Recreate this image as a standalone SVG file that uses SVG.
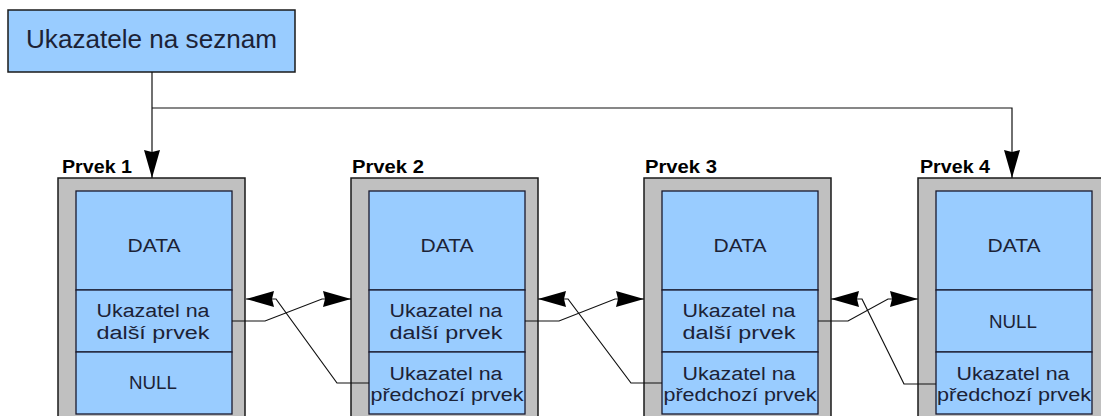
<svg xmlns="http://www.w3.org/2000/svg" width="1101" height="416" viewBox="0 0 1101 416">
  <style>
    .head { fill: #99ccff; stroke: #1a1a1a; stroke-width: 1.5; }
    .frame { fill: #c0c0c0; stroke: #1a1a1a; stroke-width: 1.5; }
    .cell { fill: #99ccff; stroke: #1a1a2e; stroke-width: 1.3; }
    .lbl { font-family: "Liberation Sans", Arial, sans-serif; font-weight: bold; font-size: 18px; fill: #000; }
    .txt { font-family: "Liberation Sans", Arial, sans-serif; font-size: 18px; fill: #1c2236; text-anchor: middle; }
    .title { font-family: "Liberation Sans", Arial, sans-serif; font-size: 26px; fill: #1c2236; }
    .wire { fill: none; stroke: #111; stroke-width: 1.2; }
  </style>
  <defs>
    <marker id="arrow" markerUnits="userSpaceOnUse" markerWidth="30" markerHeight="18" refX="28" refY="8" orient="auto">
      <path d="M0,0 L28,8 L0,16 L2,8 z" fill="#000"/>
    </marker>
  </defs>

  <rect width="1101" height="416" fill="#fff"/>

  <!-- list head -->
  <g id="head">
    <rect class="head" x="8" y="10" width="287" height="62"/>
    <text class="title" x="26" y="48" textLength="251" lengthAdjust="spacingAndGlyphs">Ukazatele na seznam</text>
  </g>

  <!-- element 1 -->
  <g id="prvek1">
    <text class="lbl" x="62" y="173" textLength="70" lengthAdjust="spacingAndGlyphs">Prvek 1</text>
    <rect class="frame" x="58" y="178" width="187" height="250"/>
    <rect class="cell" x="76" y="191" width="156" height="99"/>
    <rect class="cell" x="76" y="290" width="156" height="62"/>
    <rect class="cell" x="76" y="352" width="156" height="62"/>
    <text class="txt" x="154" y="252" textLength="53" lengthAdjust="spacingAndGlyphs">DATA</text>
    <text class="txt" x="153" y="317" textLength="113" lengthAdjust="spacingAndGlyphs">Ukazatel na</text>
    <text class="txt" x="153" y="339" textLength="113" lengthAdjust="spacingAndGlyphs">další prvek</text>
    <text class="txt" x="153" y="389" textLength="48" lengthAdjust="spacingAndGlyphs">NULL</text>
  </g>

  <!-- element 2 -->
  <g id="prvek2">
    <text class="lbl" x="352" y="173" textLength="72" lengthAdjust="spacingAndGlyphs">Prvek 2</text>
    <rect class="frame" x="351" y="178" width="187" height="250"/>
    <rect class="cell" x="369" y="191" width="156" height="99"/>
    <rect class="cell" x="369" y="290" width="156" height="62"/>
    <rect class="cell" x="369" y="352" width="156" height="62"/>
    <text class="txt" x="447" y="252" textLength="53" lengthAdjust="spacingAndGlyphs">DATA</text>
    <text class="txt" x="446" y="317" textLength="113" lengthAdjust="spacingAndGlyphs">Ukazatel na</text>
    <text class="txt" x="446" y="339" textLength="113" lengthAdjust="spacingAndGlyphs">další prvek</text>
    <text class="txt" x="446" y="380" textLength="113" lengthAdjust="spacingAndGlyphs">Ukazatel na</text>
    <text class="txt" x="447" y="401" textLength="153" lengthAdjust="spacingAndGlyphs">předchozí prvek</text>
  </g>

  <!-- element 3 -->
  <g id="prvek3">
    <text class="lbl" x="645" y="173" textLength="72" lengthAdjust="spacingAndGlyphs">Prvek 3</text>
    <rect class="frame" x="644" y="178" width="187" height="250"/>
    <rect class="cell" x="662" y="191" width="156" height="99"/>
    <rect class="cell" x="662" y="290" width="156" height="62"/>
    <rect class="cell" x="662" y="352" width="156" height="62"/>
    <text class="txt" x="740" y="252" textLength="53" lengthAdjust="spacingAndGlyphs">DATA</text>
    <text class="txt" x="739" y="317" textLength="113" lengthAdjust="spacingAndGlyphs">Ukazatel na</text>
    <text class="txt" x="739" y="339" textLength="113" lengthAdjust="spacingAndGlyphs">další prvek</text>
    <text class="txt" x="739" y="380" textLength="113" lengthAdjust="spacingAndGlyphs">Ukazatel na</text>
    <text class="txt" x="740" y="401" textLength="153" lengthAdjust="spacingAndGlyphs">předchozí prvek</text>
  </g>

  <!-- element 4 -->
  <g id="prvek4">
    <text class="lbl" x="920" y="173" textLength="70" lengthAdjust="spacingAndGlyphs">Prvek 4</text>
    <rect class="frame" x="918" y="178" width="200" height="250"/>
    <rect class="cell" x="936" y="191" width="156" height="99"/>
    <rect class="cell" x="936" y="290" width="156" height="62"/>
    <rect class="cell" x="936" y="352" width="156" height="62"/>
    <text class="txt" x="1014" y="252" textLength="53" lengthAdjust="spacingAndGlyphs">DATA</text>
    <text class="txt" x="1013" y="328" textLength="48" lengthAdjust="spacingAndGlyphs">NULL</text>
    <text class="txt" x="1013" y="380" textLength="113" lengthAdjust="spacingAndGlyphs">Ukazatel na</text>
    <text class="txt" x="1014" y="401" textLength="154" lengthAdjust="spacingAndGlyphs">předchozí prvek</text>
  </g>

  <!-- pointers -->
  <g id="connectors">
    <path class="wire" d="M152,72 V178" marker-end="url(#arrow)"/>
    <path class="wire" d="M152,108 H1012 V178" marker-end="url(#arrow)"/>

    <path class="wire" d="M232,321 H265 L322,299 H351" marker-end="url(#arrow)"/>
    <path class="wire" d="M369,383 H337 L276,299 H246" marker-end="url(#arrow)"/>

    <path class="wire" d="M525,321 H559 L615,299 H644" marker-end="url(#arrow)"/>
    <path class="wire" d="M662,383 H631 L568,299 H538" marker-end="url(#arrow)"/>

    <path class="wire" d="M818,321 H848 L888,299 H918" marker-end="url(#arrow)"/>
    <path class="wire" d="M936,384 H904 L862,299 H831" marker-end="url(#arrow)"/>
  </g>
</svg>
